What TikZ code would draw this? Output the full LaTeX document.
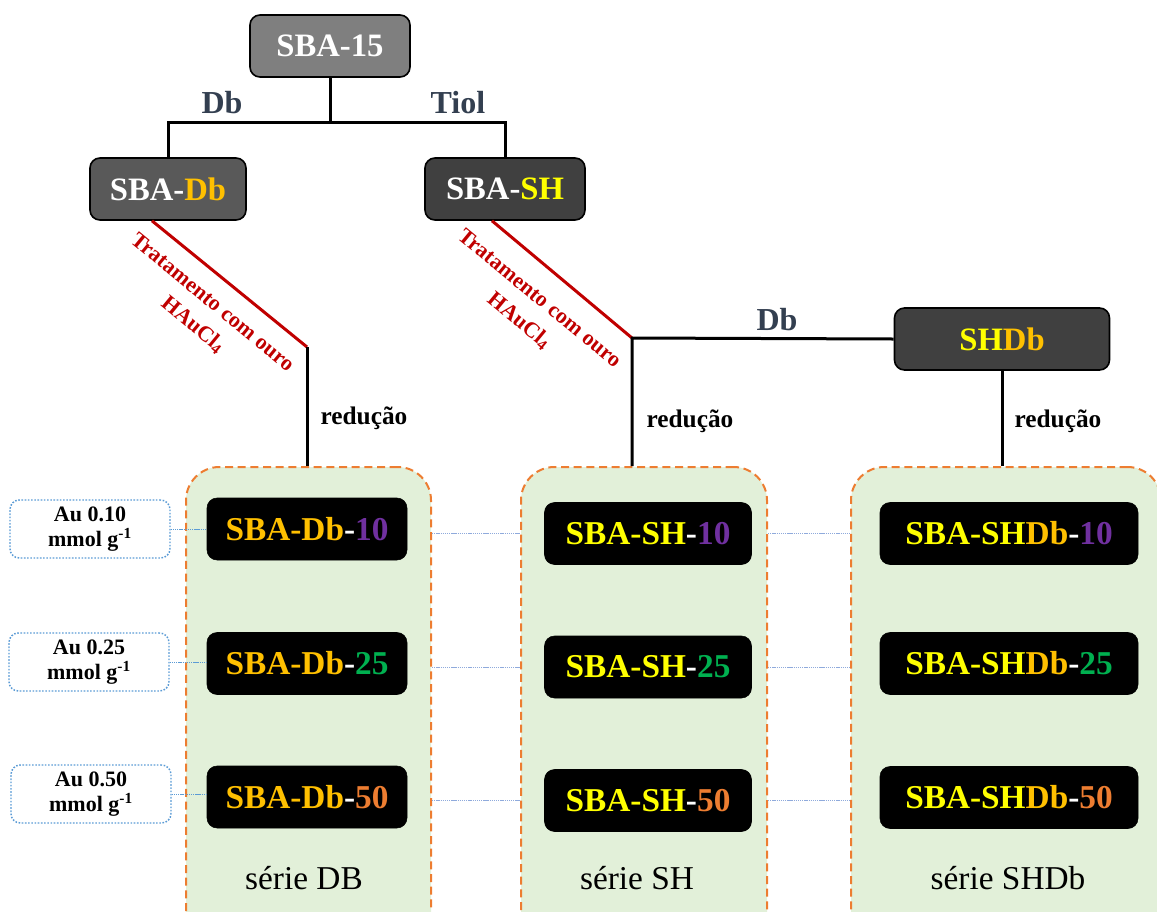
\documentclass[tikz,border=0pt]{standalone}
\usepackage{fontspec}
\setmainfont{Liberation Serif}
\definecolor{cA}{HTML}{7F7F7F}
\definecolor{cB}{HTML}{595959}
\definecolor{cC}{HTML}{404040}
\definecolor{cgold}{HTML}{FFC000}
\definecolor{cyel}{HTML}{FFFF00}
\definecolor{cpur}{HTML}{7030A0}
\definecolor{cgrn}{HTML}{00B050}
\definecolor{cora}{HTML}{ED7D31}
\definecolor{cbg}{HTML}{E2F0D9}
\definecolor{cblue}{HTML}{5B9BD5}
\definecolor{cgray}{HTML}{8FAADC}
\definecolor{cred}{HTML}{C00000}
\definecolor{cslate}{HTML}{333F50}
\begin{document}
\begin{tikzpicture}[x=0.75pt,y=-0.75pt,
  conn/.style={line width=2.25pt, black},
  redl/.style={line width=2.25pt, cred},
  topbox/.style={draw=black, line width=1.2pt, rounded corners=7.5pt, minimum height=46.5pt, inner sep=0pt, text=white, font=\fontsize{24.5pt}{29pt}\selectfont\bfseries},
  sample/.style={draw=black, fill=black, rounded corners=7.5pt, minimum height=46.5pt, inner sep=0pt, font=\fontsize{25pt}{29pt}\selectfont\bfseries},
  seriebox/.style={draw=cora, fill=cbg, line width=1.5pt, dash pattern=on 6pt off 3.5pt, rounded corners=25pt, minimum height=361.5pt, inner sep=0pt},
  aubox/.style={draw=cblue, line width=1.1pt, dash pattern=on 1.2pt off 1.2pt, rounded corners=7pt, minimum width=120pt, minimum height=43.5pt, inner sep=0pt, align=center, font=\fontsize{16.5pt}{18.75pt}\selectfont\bfseries},
  lab/.style={inner sep=0pt, text=cslate, font=\fontsize{24pt}{28pt}\selectfont\bfseries},
  redlab/.style={inner sep=0pt, text=cred, rotate=-39.5, font=\fontsize{16.5pt}{20pt}\selectfont\bfseries},
  reduc/.style={inner sep=0pt, font=\fontsize{19pt}{22pt}\selectfont\bfseries},
  serietext/.style={inner sep=0pt, font=\fontsize{25pt}{29pt}\selectfont},
  thinb/.style={cblue, line width=0.75pt, dash pattern=on 1pt off 0.6pt},
  thing/.style={cgray, line width=0.75pt, dash pattern=on 1pt off 0.6pt}]
\clip (0,0) rectangle (1157,911);
% series containers
\node[seriebox, minimum width=183.75pt] (dbc) at (308.5,708) {};
\node[seriebox, minimum width=184.5pt] (shc) at (644,708) {};
\node[seriebox, minimum width=232.5pt] (shdbc) at (1006,708) {};
% top boxes
\node[topbox, fill=cA, minimum width=120pt] (s15) at (330,46) {SBA-15};
\node[topbox, fill=cB, minimum width=117pt] (sdb) at (168,189) {SBA-\textcolor{cgold}{Db}};
\node[topbox, fill=cC, minimum width=120pt] (ssh) at (505,189) {SBA-\textcolor{cyel}{SH}};
\node[topbox, fill=cC, minimum width=161.25pt] (shdb) at (1002,339) {\textcolor{cyel}{SH}\textcolor{cgold}{Db}};
% connectors
\coordinate (j) at (330,122);
\coordinate (c1) at (307,347);
\coordinate (c2) at (632,338);
\draw[conn] (s15.south) -- (j);
\draw[conn] (sdb.north) |- (j) -| (ssh.north);
\draw[redl] ([xshift=-12pt]sdb.south) -- (c1);
\draw[conn] (c1) -- (c1 |- dbc.north);
\draw[redl] ([xshift=-9.75pt]ssh.south) -- (c2);
\draw[conn] (c2 |- shc.north) -- (c2) -- (shdb.west);
\draw[conn] (shdb.south) -- (shdb.south |- shdbc.north);
% labels
\node[lab] (lDb) at (222,103) {Db};
\node[lab] (lTiol) at (458,103) {Tiol};
\node[lab] (lDb2) at (777,320) {Db};
\node[redlab] (rt1a) at (213,302) {Tratamento com ouro};
\node[redlab] (rt1b) at (193,325) {HAuCl\textsubscript{4}};
\node[redlab] (rt2a) at (540,298) {Tratamento com ouro};
\node[redlab] (rt2b) at (519,321) {HAuCl\textsubscript{4}};
\node[reduc] (r1) at (364,418) {redução};
\node[reduc] (r2) at (690,421) {redução};
\node[reduc] (r3) at (1058,421) {redução};
% sample boxes
\node[sample, minimum width=150pt] (d1) at (307,529) {\textcolor{cgold}{SBA-Db}\textcolor{white}{-}\textcolor{cpur}{10}};
\node[sample, minimum width=150pt] (d2) at (307,663.5) {\textcolor{cgold}{SBA-Db}\textcolor{white}{-}\textcolor{cgrn}{25}};
\node[sample, minimum width=150pt] (d3) at (307,797) {\textcolor{cgold}{SBA-Db}\textcolor{white}{-}\textcolor{cora}{50}};
\node[sample, minimum width=155.25pt] (s1) at (648,533.5) {\textcolor{cyel}{SBA-SH}\textcolor{white}{-}\textcolor{cpur}{10}};
\node[sample, minimum width=155.25pt] (s2) at (648,667) {\textcolor{cyel}{SBA-SH}\textcolor{white}{-}\textcolor{cgrn}{25}};
\node[sample, minimum width=155.25pt] (s3) at (648,800.5) {\textcolor{cyel}{SBA-SH}\textcolor{white}{-}\textcolor{cora}{50}};
\node[sample, minimum width=193.5pt] (h1) at (1009,533.5) {\textcolor{cyel}{SBA-SH}\textcolor{cgold}{Db}\textcolor{white}{-}\textcolor{cpur}{10}};
\node[sample, minimum width=193.5pt] (h2) at (1009,663.5) {\textcolor{cyel}{SBA-SH}\textcolor{cgold}{Db}\textcolor{white}{-}\textcolor{cgrn}{25}};
\node[sample, minimum width=193.5pt] (h3) at (1009,797.5) {\textcolor{cyel}{SBA-SH}\textcolor{cgold}{Db}\textcolor{white}{-}\textcolor{cora}{50}};
% Au boxes
\node[aubox] (a1) at (90,529) {Au 0.10\\mmol g\textsuperscript{-1}};
\node[aubox] (a2) at (89,662) {Au 0.25\\mmol g\textsuperscript{-1}};
\node[aubox] (a3) at (91,794) {Au 0.50\\mmol g\textsuperscript{-1}};
\draw[thinb] (a1.east) -- (a1.east -| d1.west);
\draw[thinb] (a2.east) -- (a2.east -| d2.west);
\draw[thinb] (a3.east) -- (a3.east -| d3.west);
% row lines between series
\draw[thing] (s1.west -| dbc.east) -- (s1.west -| shc.west);
\draw[thing] (s2.west -| dbc.east) -- (s2.west -| shc.west);
\draw[thing] (s3.west -| dbc.east) -- (s3.west -| shc.west);
\draw[thing] (s1.east -| shc.east) -- (s1.east -| shdbc.west);
\draw[thing] (s2.east -| shc.east) -- (s2.east -| shdbc.west);
\draw[thing] (s3.east -| shc.east) -- (s3.east -| shdbc.west);
% series labels
\node[serietext] (t1) at (304,878) {série DB};
\node[serietext] (t2) at (637,878) {série SH};
\node[serietext] (t3) at (1008,878) {série SHDb};
\end{tikzpicture}
\end{document}
